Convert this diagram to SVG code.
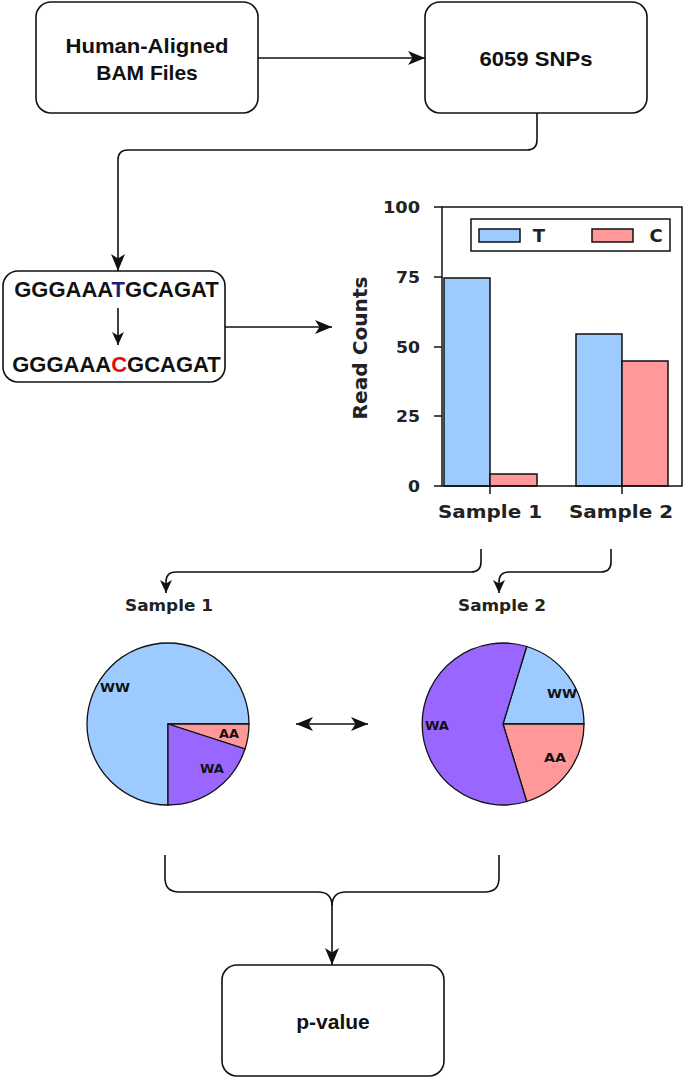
<svg xmlns="http://www.w3.org/2000/svg" width="685" height="1079" viewBox="0 0 685 1079">
<defs>
<style>
.box{fill:#fff;stroke:#111;stroke-width:1.6}
.bt{font-family:"Liberation Sans",Arial,sans-serif;font-weight:bold;font-size:21px;fill:#111;text-anchor:middle}
.seq{font-family:"Liberation Sans",Arial,sans-serif;font-weight:bold;font-size:22px;fill:#111;text-anchor:middle}
.ln{fill:none;stroke:#111;stroke-width:1.6}
.ct{font-family:"DejaVu Sans",sans-serif;font-weight:bold;fill:#222}
.ax{fill:none;stroke:#111;stroke-width:1.5}
.bar{stroke:#111;stroke-width:1.5}
.tb{fill:#9ecbff}
.tc{fill:#ff9898}
.tw{fill:#9966ff}
.sl{stroke:#111;stroke-width:1.3}
.pl{font-family:"DejaVu Sans",sans-serif;font-weight:bold;font-size:13px;fill:#111;text-anchor:middle}
</style>
<marker id="ah" markerUnits="userSpaceOnUse" viewBox="0 0 17 14" refX="17" refY="7" markerWidth="17" markerHeight="14" orient="auto-start-reverse">
<path d="M0,0 L17,7 L0,14 L4.5,7 Z" fill="#111"/>
</marker>
<marker id="ahs" markerUnits="userSpaceOnUse" viewBox="0 0 13 12" refX="13" refY="6" markerWidth="13" markerHeight="12" orient="auto-start-reverse">
<path d="M0,0 L13,6 L0,12 L3.5,6 Z" fill="#111"/>
</marker>
</defs>
<rect width="685" height="1079" fill="#fff"/>

<g id="connectors">
<path class="ln" d="M258,58 L425,58" marker-end="url(#ah)"/>
<path class="ln" d="M537,113 L537,140 Q537,150 527,150 L128,150 Q118,150 118,160 L118,271" marker-end="url(#ah)"/>
<path class="ln" d="M225,327 L332,327" marker-end="url(#ah)"/>
<path class="ln" d="M481,549 L481,562 Q481,572 471,572 L176,572 Q166,572 166,582 L166,593" marker-end="url(#ahs)"/>
<path class="ln" d="M611,549 L611,562 Q611,572 601,572 L509,572 Q499,572 499,582 L499,593" marker-end="url(#ahs)"/>
<path class="ln" d="M296,724 L368,724" marker-start="url(#ah)" marker-end="url(#ah)"/>
<path class="ln" d="M165,855 L165,878 Q165,892 179,892 L318,892 Q332,892 332,906"/>
<path class="ln" d="M499,855 L499,878 Q499,892 485,892 L346,892 Q332,892 332,906 L332,965" marker-end="url(#ah)"/>
</g>

<g id="node-bam">
<rect class="box" x="36" y="2" width="222" height="111" rx="15"/>
<text class="bt" x="147" y="52.5" textLength="163" lengthAdjust="spacingAndGlyphs">Human-Aligned</text>
<text class="bt" x="147" y="79.5">BAM Files</text>
</g>

<g id="node-snps">
<rect class="box" x="425" y="2" width="222" height="111" rx="15"/>
<text class="bt" x="536" y="65.5" textLength="113" lengthAdjust="spacingAndGlyphs">6059 SNPs</text>
</g>

<g id="node-seq">
<rect class="box" x="3" y="271" width="222" height="111" rx="15"/>
<text class="seq" x="116.5" y="297">GGGAAA<tspan fill="#1f1f7a">T</tspan>GCAGAT</text>
<path class="ln" d="M118,308 L118,345" marker-end="url(#ahs)"/>
<text class="seq" x="116.5" y="372">GGGAAA<tspan fill="#e01010">C</tspan>GCAGAT</text>
</g>

<g id="node-chart">
<rect class="bar tb" x="444" y="278" width="46" height="208"/>
<rect class="bar tc" x="490" y="474" width="47" height="12"/>
<rect class="bar tb" x="576" y="334" width="46" height="152"/>
<rect class="bar tc" x="622" y="361" width="46" height="125"/>
<rect class="ax" x="442" y="207" width="240" height="279"/>
<path class="ax" d="M434,207 H442 M434,277 H442 M434,347 H442 M434,416 H442 M434,486 H442 M490,486 V494 M622,486 V494"/>
<g class="ct" font-size="16" text-anchor="end">
<text x="420" y="213" textLength="37" lengthAdjust="spacingAndGlyphs">100</text>
<text x="420" y="283" textLength="24" lengthAdjust="spacingAndGlyphs">75</text>
<text x="420" y="353" textLength="24" lengthAdjust="spacingAndGlyphs">50</text>
<text x="420" y="422" textLength="24" lengthAdjust="spacingAndGlyphs">25</text>
<text x="420" y="492" textLength="12" lengthAdjust="spacingAndGlyphs">0</text>
</g>
<text class="ct" font-size="19" text-anchor="middle" transform="translate(367,348) rotate(-90)" textLength="143" lengthAdjust="spacingAndGlyphs">Read Counts</text>
<text class="ct" font-size="18" text-anchor="middle" x="490" y="518" textLength="104" lengthAdjust="spacingAndGlyphs">Sample 1</text>
<text class="ct" font-size="18" text-anchor="middle" x="621" y="518" textLength="104" lengthAdjust="spacingAndGlyphs">Sample 2</text>
<rect class="ax" x="471" y="219" width="199" height="32" fill="#fff"/>
<rect class="bar tb" x="479" y="229" width="41" height="13"/>
<rect class="bar tc" x="592" y="229" width="41" height="13"/>
<text class="ct" font-size="18" text-anchor="middle" x="539" y="242">T</text>
<text class="ct" font-size="18" text-anchor="middle" x="656" y="242">C</text>
</g>

<g id="node-pie1">
<text class="ct" font-size="16" text-anchor="middle" x="169" y="611" textLength="88" lengthAdjust="spacingAndGlyphs">Sample 1</text>
<path class="sl tb" d="M168,724 L168,805 A81,81 0 1 1 249,724 Z"/>
<path class="sl tc" d="M168,724 L249,724 A81,81 0 0 1 245,749 Z"/>
<path class="sl tw" d="M168,724 L245,749 A81,81 0 0 1 168,805 Z"/>
<text class="pl" x="115" y="692" textLength="30" lengthAdjust="spacingAndGlyphs">WW</text>
<text class="pl" x="229" y="738" textLength="20" lengthAdjust="spacingAndGlyphs">AA</text>
<text class="pl" x="212" y="773" textLength="24" lengthAdjust="spacingAndGlyphs">WA</text>
</g>

<g id="node-pie2">
<text class="ct" font-size="16" text-anchor="middle" x="502" y="611" textLength="88" lengthAdjust="spacingAndGlyphs">Sample 2</text>
<path class="sl tb" d="M503,724 L584,724 A81,81 0 0 0 526.7,646.5 Z"/>
<path class="sl tc" d="M503,724 L584,724 A81,81 0 0 1 526.7,801.5 Z"/>
<path class="sl tw" d="M503,724 L526.7,801.5 A81,81 0 1 1 526.7,646.5 Z"/>
<text class="pl" x="562" y="698" textLength="30" lengthAdjust="spacingAndGlyphs">WW</text>
<text class="pl" x="437" y="730" textLength="24" lengthAdjust="spacingAndGlyphs">WA</text>
<text class="pl" x="555" y="762" textLength="22" lengthAdjust="spacingAndGlyphs">AA</text>
</g>

<g id="node-pvalue">
<rect class="box" x="222" y="965" width="222" height="111" rx="15"/>
<text class="bt" x="333" y="1029" font-size="20">p-value</text>
</g>
</svg>
